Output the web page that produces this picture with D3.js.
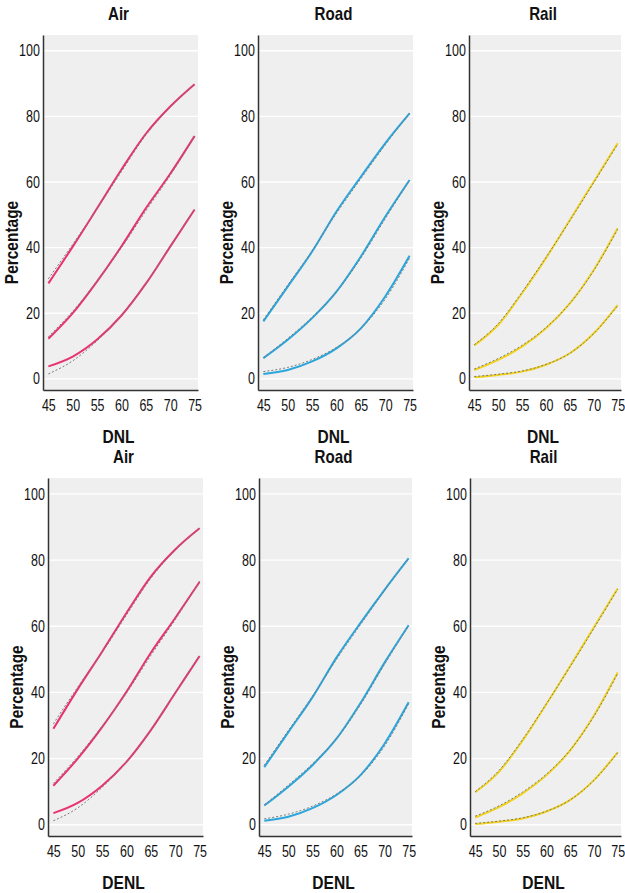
<!DOCTYPE html>
<html lang="en">
<head>
  <meta charset="utf-8">
  <script src="https://d3js.org/d3.v7.min.js"></script>
  <style type="text/css">
    body { margin: 0; background: #fff; }
    text { font-family: "Liberation Sans", Arial, sans-serif; fill: #111; }
  </style>
</head>
<body>
  <svg id="chart" width="625" height="893"></svg>

  <script>
    // noise level steps shared by every curve
    const levels = [45, 50, 55, 60, 65, 70, 75];
    const yTicks = [0, 20, 40, 60, 80, 100];
    const xTicks = [45, 50, 55, 60, 65, 70, 75];

    const titles = ["Air", "Road", "Rail", "Air", "Road", "Rail"];
    const xLabels = ["DNL", "DNL", "DNL", "DENL", "DENL", "DENL"];
    const colors = ["#e8336e", "#2aa6dc", "#f2d21c", "#e8336e", "#2aa6dc", "#f2d21c"];

    // solid curves: highly annoyed / annoyed / little annoyed
    const airDnl = [
      [29.1, 40.3, 52.0, 63.8, 74.7, 83.0, 89.8],
      [12.2, 20.0, 29.7, 40.4, 52.0, 62.5, 74.0],
      [3.8, 6.8, 12.0, 19.3, 29.0, 40.3, 51.6]
    ];
    const roadDnl = [
      [17.5, 28.1, 38.8, 51.0, 61.6, 71.8, 80.9],
      [6.3, 11.9, 18.5, 26.6, 37.3, 49.4, 60.6],
      [1.5, 2.7, 5.3, 9.3, 15.4, 25.1, 37.5]
    ];
    const railDnl = [
      [10.2, 16.4, 26.1, 36.8, 48.4, 60.1, 71.8],
      [2.7, 5.8, 9.8, 15.4, 23.0, 33.2, 45.9],
      [0.5, 1.2, 2.2, 4.3, 7.8, 13.9, 22.5]
    ];
    const airDenl = [
      [29.0, 41.0, 52.3, 64.0, 75.0, 83.2, 89.6],
      [11.8, 20.0, 29.5, 40.2, 52.0, 62.5, 73.4],
      [3.5, 6.6, 11.8, 19.0, 28.6, 39.8, 51.0]
    ];
    const roadDenl = [
      [17.4, 28.0, 38.5, 50.5, 61.0, 71.0, 80.5],
      [5.8, 11.5, 18.0, 26.0, 36.8, 49.0, 60.3],
      [1.2, 2.4, 5.0, 9.0, 15.0, 24.5, 37.0]
    ];
    const railDenl = [
      [9.8, 16.0, 25.5, 36.5, 48.0, 59.7, 71.4],
      [2.2, 5.3, 9.5, 15.0, 22.5, 33.0, 46.0],
      [0.2, 0.9, 1.9, 4.0, 7.5, 13.5, 21.9]
    ];

    // dashed grey curves drawn over the coloured ones
    const airDnlFit = [
      [30.5, 41.0, 51.8, 63.2, 74.3, 82.8, 89.8],
      [12.8, 20.6, 29.8, 40.0, 51.2, 62.0, 74.0],
      [1.5, 5.5, 11.6, 19.3, 29.0, 40.5, 51.8]
    ];
    const roadDnlFit = [
      [18.0, 28.6, 39.0, 50.5, 61.0, 71.3, 81.0],
      [6.5, 12.3, 18.8, 26.5, 36.8, 48.8, 60.5],
      [2.2, 3.5, 5.9, 9.6, 15.3, 24.3, 36.8]
    ];
    const railDnlFit = [
      [10.4, 16.8, 26.4, 37.0, 48.2, 59.8, 71.5],
      [3.0, 6.2, 10.2, 15.6, 23.0, 33.0, 45.6],
      [0.7, 1.4, 2.4, 4.4, 7.8, 13.8, 22.3]
    ];
    const airDenlFit = [
      [30.5, 41.6, 52.0, 63.4, 74.5, 83.0, 89.6],
      [12.5, 20.6, 29.8, 39.8, 51.2, 62.0, 73.6],
      [1.2, 5.1, 11.3, 19.0, 28.6, 40.0, 51.2]
    ];
    const roadDenlFit = [
      [18.0, 28.5, 38.8, 50.0, 60.5, 70.8, 80.6],
      [6.0, 12.0, 18.4, 26.0, 36.3, 48.5, 60.2],
      [1.8, 3.2, 5.6, 9.3, 14.8, 23.8, 36.6]
    ];
    const railDenlFit = [
      [10.0, 16.4, 25.8, 36.6, 47.8, 59.4, 71.2],
      [2.6, 5.7, 9.9, 15.3, 22.6, 32.8, 45.7],
      [0.4, 1.1, 2.1, 4.1, 7.5, 13.4, 21.8]
    ];

    const solidSets = [airDnl, roadDnl, railDnl, airDenl, roadDenl, railDenl];
    const fitSets = [airDnlFit, roadDnlFit, railDnlFit, airDenlFit, roadDenlFit, railDenlFit];

    // plot boxes [left, top, right, bottom]
    const boxes = [
      [43, 35, 198, 390], [258, 35, 413, 390], [469, 35, 621, 390],
      [48, 478, 203, 836], [259, 478, 412, 836], [470, 478, 621, 836]
    ];

    const svg = d3.select("svg#chart");

    boxes.forEach((b, p) => {
      const [l, t, r, bt] = b;
      const x = d3.scaleLinear().domain([43.9, 75.7]).range([l, r]);
      const y = d3.scaleLinear().domain([-3.4, 104.8]).range([bt, t]);
      const g = svg.append("g");

      g.append("rect")
        .attr("x", l).attr("y", t)
        .attr("width", r - l).attr("height", bt - t)
        .attr("fill", "#efefef");

      // horizontal grid
      g.selectAll("line.grid")
        .data(yTicks)
        .join("line")
        .attr("class", "grid")
        .attr("x1", l).attr("x2", r)
        .attr("y1", d => y(d)).attr("y2", d => y(d))
        .attr("stroke", "#fff")
        .attr("stroke-width", 1.3);

      const line = d3.line()
        .x((d, i) => x(levels[i]))
        .y(d => y(d))
        .curve(d3.curveMonotoneX);

      g.selectAll("path.solid")
        .data(solidSets[p])
        .join("path")
        .attr("class", "solid")
        .attr("d", line)
        .attr("fill", "none")
        .attr("stroke", colors[p])
        .attr("stroke-width", 2);

      g.selectAll("path.fit")
        .data(fitSets[p])
        .join("path")
        .attr("class", "fit")
        .attr("d", line)
        .attr("fill", "none")
        .attr("stroke", "#7a7a7a")
        .attr("stroke-width", 1)
        .attr("stroke-dasharray", "2,2");

      // axes
      const ax = g.append("g").attr("transform", "translate(0," + bt + ")")
        .call(d3.axisBottom(x).tickValues(xTicks).tickSize(0).tickPadding(10));
      const ay = g.append("g").attr("transform", "translate(" + l + ",0)")
        .call(d3.axisLeft(y).tickValues(yTicks).tickSize(0).tickPadding(4));
      [ax, ay].forEach(a => {
        a.select(".domain").attr("stroke", "#333").attr("stroke-width", 1.5);
        a.selectAll("text").attr("font-size", 16).attr("transform", "scale(0.78,1)");
      });

      // condensed bold labels
      g.append("text")
        .attr("transform", "translate(" + ((l + r) / 2 - 2) + "," + (t - 15) + ") scale(0.84,1)")
        .attr("text-anchor", "middle")
        .attr("font-size", 18)
        .attr("font-weight", "bold")
        .text(titles[p]);

      g.append("text")
        .attr("transform", "translate(" + ((l + r) / 2 - 2) + "," + (bt + 53) + ") scale(0.82,1)")
        .attr("text-anchor", "middle")
        .attr("font-size", 19)
        .attr("font-weight", "bold")
        .text(xLabels[p]);

      g.append("text")
        .attr("transform", "translate(" + (l - 31) + "," + ((t + bt) / 2 + 30) + ") rotate(-90) scale(0.86,1)")
        .attr("dy", "0.35em")
        .attr("text-anchor", "middle")
        .attr("font-size", 18)
        .attr("font-weight", "bold")
        .text("Percentage");
    });
  </script>
</body>
</html>
